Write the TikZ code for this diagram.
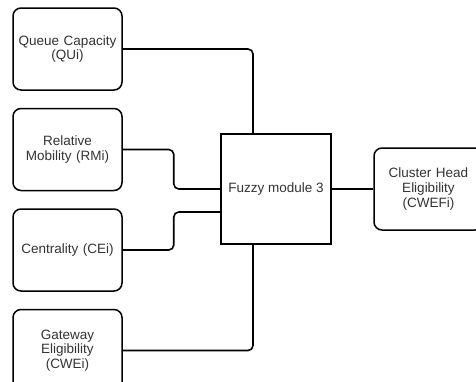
\documentclass[tikz,border=0pt]{standalone}
\usepackage{fontspec}
\setmainfont{Liberation Sans}
\usepackage{tikz}
\usetikzlibrary{positioning,calc}
\definecolor{texteG}{HTML}{333333}
\tikzset{
  critere/.style={rectangle, rounded corners=8pt, draw=black, line width=1.5pt, fill=white,
                  align=center, text=texteG, font=\fontsize{13.5}{14.5}\selectfont,
                  minimum width=109pt, minimum height=82pt, text width=104pt, inner sep=2pt},
  module/.style={rectangle, draw=black, line width=1.5pt, fill=white, align=center,
                 text=texteG, font=\fontsize{13.5}{14.5}\selectfont,
                 minimum width=110pt, minimum height=110pt, inner sep=2pt},
  fil/.style={line width=1.6pt, draw=black, rounded corners=5pt},
}
\begin{document}
\begin{tikzpicture}[x=1pt, y=-1pt, node distance=17pt]
    \clip (0,0) rectangle (476,381);
    \fill[white] (0,0) rectangle (476,381);
    % entrees
    \node[critere] (qu) at (67.5,49) {Queue Capacity\\(QUi)};
    \node[critere, below=of qu] (rm) {Relative\\Mobility (RMi)};
    \node[critere, below=of rm] (ce) {Centrality (CEi)};
    \node[critere, below=of ce] (cw) {Gateway\\Eligibility\\(CWEi)};
    % module et sortie
    \node[module] (fz) at (276,189) {Fuzzy module 3};
    \node[critere] (ch) at (428.5,189) {Cluster Head\\Eligibility\\(CWEFi)};
    % liaisons
    \draw[fil] (qu.east) -| ([xshift=-23pt]fz.north);
    \draw[fil] (rm.east) -- ++(51,0) |- (fz.west);
    \draw[fil] (ce.east) -- ++(51,0) |- ([yshift=-23pt]fz.west);
    \draw[fil] (cw.east) -| ([xshift=-23pt]fz.south);
    \draw[fil] (fz.east) -- (ch.west);
  \end{tikzpicture}
\end{document}
